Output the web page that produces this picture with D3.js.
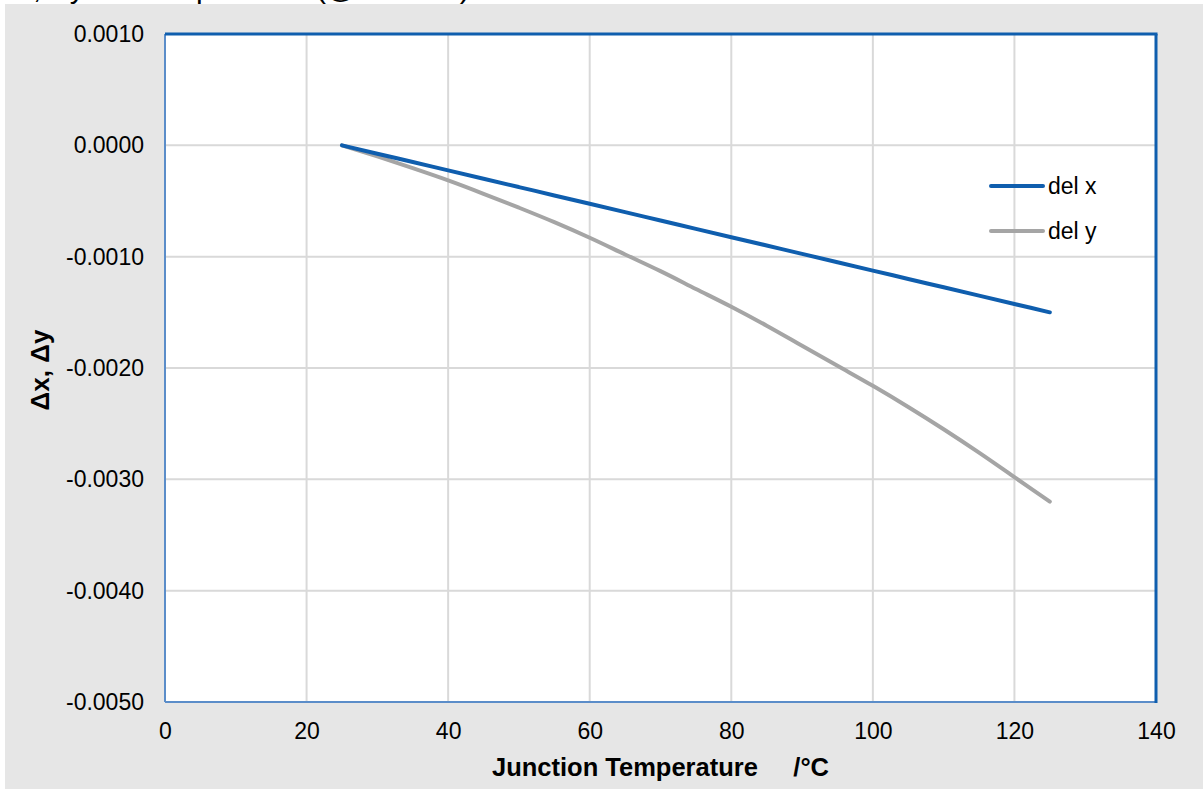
<!DOCTYPE html>
<html>
<head>
<meta charset="utf-8">
<script src="https://cdn.jsdelivr.net/npm/d3@7"></script>
<style>
  html, body { margin: 0; padding: 0; background: #ffffff; }
  svg { display: block; }
  text { font-family: "Liberation Sans", Arial, sans-serif; fill: #000; }
</style>
</head>
<body>
<svg id="chart" width="1203" height="789"></svg>
<script>
// ---- data ----
const temps = [25, 30, 35, 40, 45, 50, 55, 60, 65, 70, 75, 80, 85, 90, 95, 100, 105, 110, 115, 120, 125];
const delX = [0, -0.000075, -0.00015, -0.000225, -0.0003, -0.000375, -0.00045, -0.000525, -0.0006, -0.000675,
              -0.00075, -0.000825, -0.0009, -0.000975, -0.00105, -0.001125, -0.0012, -0.001275, -0.00135, -0.001425, -0.0015];
const delY = [0, -0.0001, -0.000205, -0.000315, -0.000435, -0.00056, -0.00069, -0.00083, -0.00098, -0.00113,
              -0.00129, -0.00145, -0.00162, -0.0018, -0.00198, -0.00216, -0.00235, -0.00255, -0.00276, -0.00298, -0.0032];
const seriesNames = ["del x", "del y"];
const seriesColors = ["#0F5EAE", "#A5A5A5"];
const xTicks = [0, 20, 40, 60, 80, 100, 120, 140];
const yTicks = [0.001, 0, -0.001, -0.002, -0.003, -0.004, -0.005];
const xTitle = "Junction Temperature     /°C";
const yTitle = "Δx, Δy";
const chartTitle = "Δx, Δy vs. Temperature (@ 700mA)";

// ---- layout ----
const svg = d3.select("#chart");
const W = 1203, H = 789;
const plot = { left: 165, top: 34, right: 1156, bottom: 702 };

const x = d3.scaleLinear().domain([0, 140]).range([plot.left, plot.right]);
const y = d3.scaleLinear().domain([-0.005, 0.001]).range([plot.bottom, plot.top]);

// background
svg.append("rect").attr("x", 0).attr("y", 0).attr("width", W).attr("height", H).attr("fill", "#ffffff");
svg.append("rect").attr("x", 5).attr("y", 4).attr("width", W - 5).attr("height", H - 4).attr("fill", "#E6E6E6");

// cut-off title (only its descenders show above the chart, as in the source)
svg.append("text").attr("x", -2).attr("y", -2).attr("font-size", 30).text(chartTitle);

// plot area
svg.append("rect").attr("x", plot.left).attr("y", plot.top)
  .attr("width", plot.right - plot.left).attr("height", plot.bottom - plot.top).attr("fill", "#ffffff");

// gridlines
const grid = svg.append("g");
grid.selectAll(".vg").data(xTicks.filter(d => d > 0 && d < 140)).enter().append("line")
  .attr("x1", d => x(d)).attr("x2", d => x(d)).attr("y1", plot.top).attr("y2", plot.bottom)
  .attr("stroke", "#D9D9D9").attr("stroke-width", 2);
grid.selectAll(".hg").data(yTicks.filter(d => d < 0.001 && d > -0.005)).enter().append("line")
  .attr("x1", plot.left).attr("x2", plot.right).attr("y1", d => y(d)).attr("y2", d => y(d))
  .attr("stroke", "#D9D9D9").attr("stroke-width", 2);

// axes (labels only via d3 axes)
const xAxis = svg.append("g").attr("transform", `translate(0,${plot.bottom})`)
  .call(d3.axisBottom(x).tickValues(xTicks).tickSize(0).tickPadding(30).tickFormat(d3.format("d")));
xAxis.select(".domain").remove();
xAxis.selectAll("text").attr("font-size", 23).attr("font-family", "Liberation Sans, Arial, sans-serif").attr("fill", "#000").attr("dy", 0).attr("y", 37);

const yAxis = svg.append("g").attr("transform", `translate(${plot.left},0)`)
  .call(d3.axisLeft(y).tickValues(yTicks).tickSize(0).tickPadding(21).tickFormat(d3.format(".4f")));
yAxis.select(".domain").remove();
yAxis.selectAll("text").attr("font-size", 23).attr("font-family", "Liberation Sans, Arial, sans-serif").attr("fill", "#000")
  .text(d => d3.format(".4f")(d).replace("−", "-"));

// plot borders
svg.append("line").attr("x1", plot.left).attr("x2", plot.left).attr("y1", plot.top).attr("y2", plot.bottom)
  .attr("stroke", "#5B8DC9").attr("stroke-width", 2);
svg.append("line").attr("x1", plot.left).attr("x2", plot.right).attr("y1", plot.bottom).attr("y2", plot.bottom)
  .attr("stroke", "#5B8DC9").attr("stroke-width", 2);
svg.append("line").attr("x1", plot.left).attr("x2", plot.right + 1.5).attr("y1", plot.top).attr("y2", plot.top)
  .attr("stroke", "#0F5EAE").attr("stroke-width", 3);
svg.append("line").attr("x1", plot.right).attr("x2", plot.right).attr("y1", plot.top).attr("y2", plot.bottom + 1)
  .attr("stroke", "#0F5EAE").attr("stroke-width", 3);

// series lines
const line = d3.line().x(d => x(d[0])).y(d => y(d[1])).curve(d3.curveMonotoneX);
const seriesData = [delX, delY];
// draw gray first so blue sits on top
[1, 0].forEach(i => {
  svg.append("path")
    .datum(temps.map((t, j) => [t, seriesData[i][j]]))
    .attr("d", line).attr("fill", "none")
    .attr("stroke", seriesColors[i]).attr("stroke-width", 4).attr("stroke-linecap", "round").attr("stroke-linejoin", "round");
});

// legend
const legend = svg.append("g");
const legY = [186, 231];
seriesNames.forEach((name, i) => {
  legend.append("line").attr("x1", 991).attr("x2", 1043).attr("y1", legY[i]).attr("y2", legY[i])
    .attr("stroke", seriesColors[i]).attr("stroke-width", 4).attr("stroke-linecap", "round");
  legend.append("text").attr("x", 1048).attr("y", legY[i]).attr("dy", "0.35em")
    .attr("font-size", 23).text(name);
});

// axis titles
svg.append("text").attr("x", (plot.left + plot.right) / 2).attr("y", 776)
  .attr("text-anchor", "middle").attr("font-size", 25.5).attr("font-weight", "bold")
  .style("white-space", "pre").text(xTitle);
svg.append("text").attr("transform", `translate(49,${(plot.top + plot.bottom) / 2 + 2}) rotate(-90)`)
  .attr("text-anchor", "middle").attr("font-size", 26).attr("font-weight", "bold").text(yTitle);
</script>
</body>
</html>
